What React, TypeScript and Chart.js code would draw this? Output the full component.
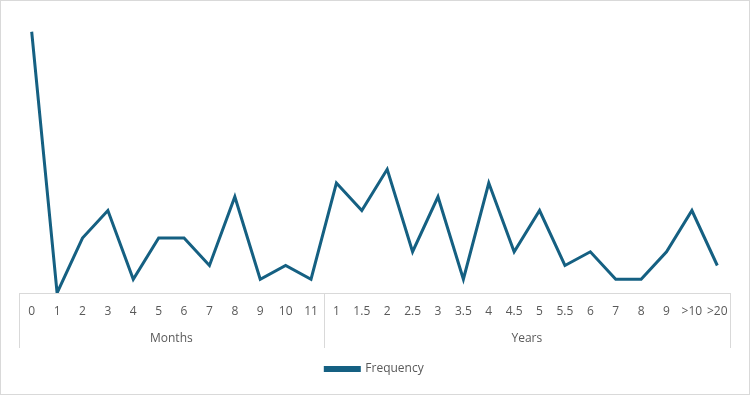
import React, { useEffect, useRef } from "react";
import { Chart, registerables } from "chart.js";

Chart.register(...registerables);

const monthLabels = ["0", "1", "2", "3", "4", "5", "6", "7", "8", "9", "10", "11"];
const yearLabels = ["1", "1.5", "2", "2.5", "3", "3.5", "4", "4.5", "5", "5.5", "6", "7", "8", "9", ">10", ">20"];
const groupNames = ["Months", "Years"];
const monthValues = [19, 0, 4, 6, 1, 4, 4, 2, 7, 1, 2, 1];
const yearValues = [8, 6, 9, 3, 7, 1, 8, 3, 6, 2, 3, 1, 1, 3, 6, 2];
const seriesName = "Frequency";

const LINE_COLOR = "#156082";
const TEXT_COLOR = "#595959";
const AXIS_COLOR = "#d9d9d9";
const FONT = "'Open Sans', 'Noto Sans', sans-serif";

export default function App() {
  const ref = useRef<HTMLCanvasElement | null>(null);

  useEffect(() => {
    document.body.style.margin = "0";
    const canvas = ref.current;
    if (!canvas) return;
    const labels = [...monthLabels, ...yearLabels];
    const data = [...monthValues, ...yearValues];
    const groups = [monthLabels.length, yearLabels.length];

    const groupPlugin = {
      id: "groupAxis",
      afterDraw(chart: any) {
        const ctx = chart.ctx;
        const x = chart.scales.x;
        const top = x.top;
        const bottom = top + 55;
        const step = x.getPixelForValue(1) - x.getPixelForValue(0);
        ctx.save();
        ctx.strokeStyle = AXIS_COLOR;
        ctx.lineWidth = 1;
        let start = 0;
        const edges: number[] = [x.getPixelForValue(0) - step / 2];
        groups.forEach((n, gi) => {
          const end = start + n - 1;
          const right = x.getPixelForValue(end) + step / 2;
          edges.push(right);
          const cx = (x.getPixelForValue(start) + x.getPixelForValue(end)) / 2;
          ctx.fillStyle = TEXT_COLOR;
          ctx.font = `12px ${FONT}`;
          ctx.textAlign = "center";
          ctx.textBaseline = "middle";
          ctx.fillText(groupNames[gi], cx, top + 46);
          start = end + 1;
        });
        edges.forEach((ex) => {
          const px = Math.round(ex) + 0.5;
          ctx.beginPath();
          ctx.moveTo(px, top);
          ctx.lineTo(px, bottom);
          ctx.stroke();
        });
        ctx.restore();
      },
    };

    const chart = new Chart(canvas, {
      type: "line",
      data: {
        labels,
        datasets: [
          {
            label: seriesName,
            data,
            borderColor: LINE_COLOR,
            backgroundColor: LINE_COLOR,
            borderWidth: 3,
            pointRadius: 0,
            tension: 0,
          },
        ],
      },
      options: {
        animation: false,
        responsive: false,
        layout: { padding: { top: 17, left: 18, right: 19, bottom: 9 } },
        scales: {
          x: {
            offset: true,
            grid: { display: false, drawTicks: false },
            border: { display: true, color: AXIS_COLOR, width: 1 },
            ticks: {
              color: TEXT_COLOR,
              font: { family: FONT, size: 12 },
              padding: 11,
              autoSkip: false,
              maxRotation: 0,
            },
            afterFit: (s: any) => {
              s.height = 60;
            },
          },
          y: { display: false, min: 0, max: 20 },
        },
        plugins: {
          tooltip: { enabled: false },
          legend: {
            position: "bottom",
            labels: {
              color: TEXT_COLOR,
              font: { family: FONT, size: 12 },
              boxWidth: 34,
              boxHeight: 3,
              padding: 10,
            },
          },
        },
      },
      plugins: [groupPlugin],
    });
    return () => chart.destroy();
  }, []);

  return (
    <div
      style={{
        width: 750,
        height: 395,
        boxSizing: "border-box",
        border: `1px solid ${AXIS_COLOR}`,
        background: "#fff",
      }}
    >
      <canvas ref={ref} width={748} height={393} style={{ display: "block" }} />
    </div>
  );
}
